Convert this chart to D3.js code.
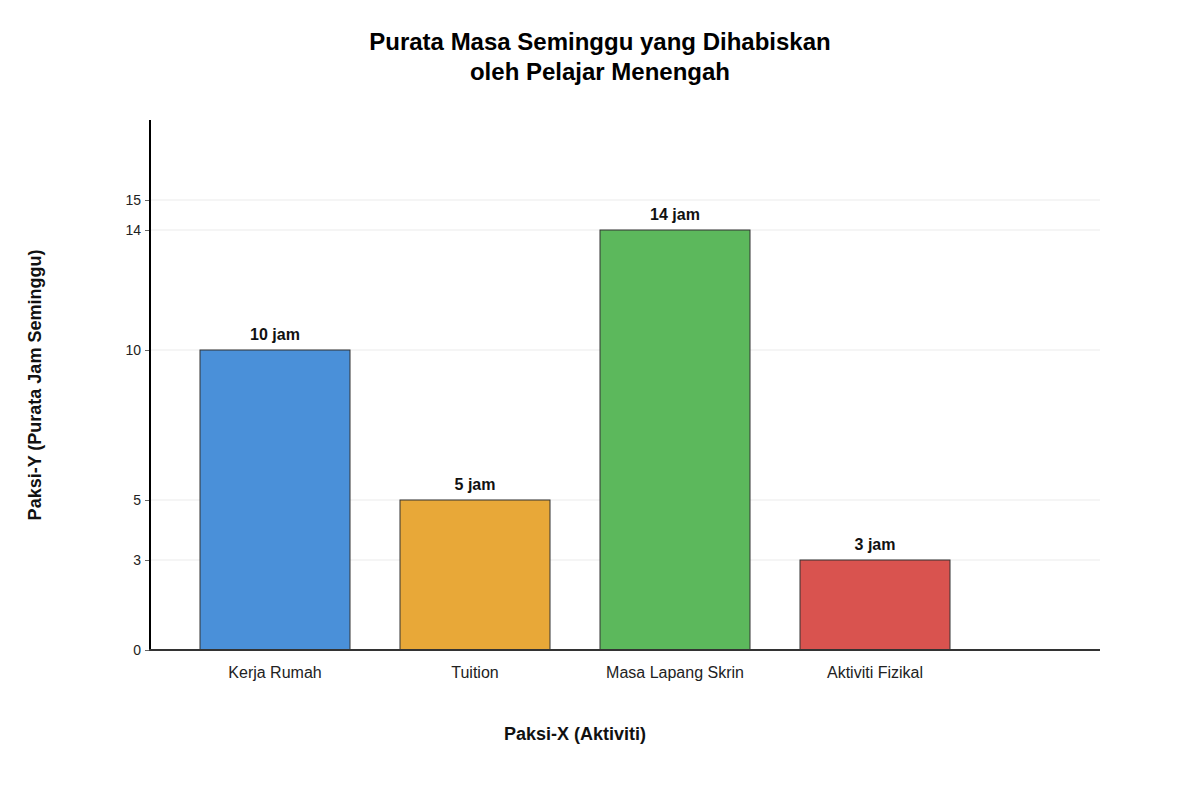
<!DOCTYPE html>
<html><head><meta charset="utf-8">
<script src="https://cdn.jsdelivr.net/npm/d3@7"></script>
<style>body{margin:0;background:#fff;font-family:"Liberation Sans",Arial,sans-serif;}</style>
</head><body><svg id="c" width="1200" height="800"></svg>
<script>
const categories = ["Kerja Rumah","Tuition","Masa Lapang Skrin","Aktiviti Fizikal"];
const values = [10,5,14,3];
const colors = ["#4A90D9","#E8A838","#5CB85C","#D9534F"];
const yTicks = [0,3,5,10,14,15];

const svg = d3.select("#c");
const x = d3.scaleBand().domain(categories).range([150,1000]).paddingInner(0.25).paddingOuter(0.25);
const y = d3.scaleLinear().domain([0,17.667]).range([650,120]);

// gridlines
svg.append("g").selectAll("line").data(yTicks.filter(d=>d>0)).join("line")
  .attr("x1",150).attr("x2",1100).attr("y1",d=>y(d)).attr("y2",d=>y(d))
  .attr("stroke","#ebebeb").attr("stroke-width",1);

// bars
svg.append("g").selectAll("rect").data(categories).join("rect")
  .attr("x",d=>x(d)).attr("y",(d,i)=>y(values[i])).attr("width",x.bandwidth())
  .attr("height",(d,i)=>y(0)-y(values[i])).attr("fill",(d,i)=>colors[i])
  .attr("stroke","#333").attr("stroke-width",1);

// value labels
svg.append("g").selectAll("text").data(categories).join("text")
  .attr("x",d=>x(d)+x.bandwidth()/2).attr("y",(d,i)=>y(values[i])-10)
  .attr("text-anchor","middle").attr("font-size",16).attr("font-weight","bold").attr("fill","#111")
  .text((d,i)=>values[i]+" jam");

// y axis
const yAxis = d3.axisLeft(y).tickValues(yTicks).tickSize(5).tickPadding(4);
const gy = svg.append("g").attr("transform","translate(150,0)").call(yAxis);
gy.select(".domain").remove();
gy.selectAll(".tick line").attr("stroke","#666");
gy.selectAll(".tick text").attr("font-size",14).attr("fill","#222").attr("font-family","Liberation Sans, Arial, sans-serif");
svg.append("line").attr("x1",150).attr("x2",150).attr("y1",120).attr("y2",651).attr("stroke","#000").attr("stroke-width",2);

// x axis
const xAxis = d3.axisBottom(x).tickSize(0).tickPadding(17);
const gx = svg.append("g").attr("transform","translate(0,650)").call(xAxis);
gx.select(".domain").remove();
gx.selectAll(".tick text").attr("font-size",16).attr("fill","#222").attr("font-family","Liberation Sans, Arial, sans-serif");
svg.append("line").attr("x1",149).attr("x2",1100).attr("y1",650).attr("y2",650).attr("stroke","#333").attr("stroke-width",2);

// titles
const t = svg.append("text").attr("x",600).attr("text-anchor","middle").attr("font-size",24).attr("font-weight","bold").attr("fill","#000");
t.append("tspan").attr("x",600).attr("y",50).text("Purata Masa Seminggu yang Dihabiskan");
t.append("tspan").attr("x",600).attr("y",80).text("oleh Pelajar Menengah");

svg.append("text").attr("x",575).attr("y",740).attr("text-anchor","middle").attr("font-size",18).attr("font-weight","bold").attr("fill","#111").text("Paksi-X (Aktiviti)");
svg.append("text").attr("transform","translate(41,385) rotate(-90)").attr("text-anchor","middle").attr("font-size",18).attr("font-weight","bold").attr("fill","#111").text("Paksi-Y (Purata Jam Seminggu)");
</script></body></html>
